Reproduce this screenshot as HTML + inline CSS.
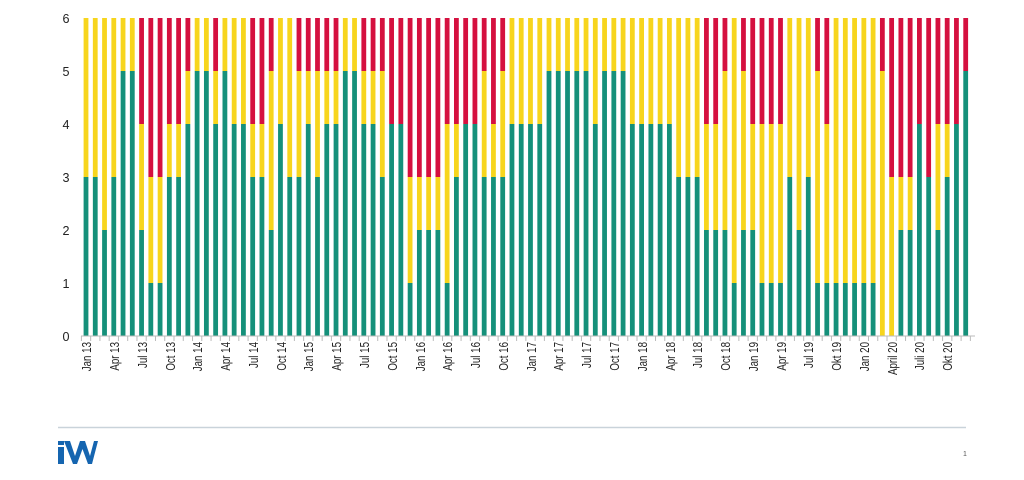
<!DOCTYPE html>
<html><head><meta charset="utf-8"><style>
html,body{margin:0;padding:0;background:#fff;width:1024px;height:480px;overflow:hidden}
svg{display:block;font-family:"Liberation Sans",sans-serif}
</style></head><body>
<svg id="s" width="1024" height="480" viewBox="0 0 1024 480">
<g id="bars"></g>
<line x1="81" y1="336" x2="975" y2="336" stroke="#bbb" stroke-width="1"/>
<g id="ticks" stroke="#bbb" stroke-width="1"></g>
<g font-size="13" fill="#222" text-anchor="middle">
<text x="66" y="341" textLength="7" lengthAdjust="spacingAndGlyphs">0</text>
<text x="66" y="288" textLength="7" lengthAdjust="spacingAndGlyphs">1</text>
<text x="66" y="235" textLength="7" lengthAdjust="spacingAndGlyphs">2</text>
<text x="66" y="182" textLength="7" lengthAdjust="spacingAndGlyphs">3</text>
<text x="66" y="129" textLength="7" lengthAdjust="spacingAndGlyphs">4</text>
<text x="66" y="76" textLength="7" lengthAdjust="spacingAndGlyphs">5</text>
<text x="66" y="23" textLength="7" lengthAdjust="spacingAndGlyphs">6</text>
</g>
<g id="xl" font-size="12.5" fill="#222" text-anchor="end">
<text transform="translate(91,342) rotate(-90) scale(0.78,1)">Jan 13</text>
<text transform="translate(119,342) rotate(-90) scale(0.78,1)">Apr 13</text>
<text transform="translate(147,342) rotate(-90) scale(0.78,1)">Jul 13</text>
<text transform="translate(175,342) rotate(-90) scale(0.78,1)">Oct 13</text>
<text transform="translate(202,342) rotate(-90) scale(0.78,1)">Jan 14</text>
<text transform="translate(230,342) rotate(-90) scale(0.78,1)">Apr 14</text>
<text transform="translate(258,342) rotate(-90) scale(0.78,1)">Jul 14</text>
<text transform="translate(286,342) rotate(-90) scale(0.78,1)">Oct 14</text>
<text transform="translate(313,342) rotate(-90) scale(0.78,1)">Jan 15</text>
<text transform="translate(341,342) rotate(-90) scale(0.78,1)">Apr 15</text>
<text transform="translate(369,342) rotate(-90) scale(0.78,1)">Jul 15</text>
<text transform="translate(397,342) rotate(-90) scale(0.78,1)">Oct 15</text>
<text transform="translate(425,342) rotate(-90) scale(0.78,1)">Jan 16</text>
<text transform="translate(452,342) rotate(-90) scale(0.78,1)">Apr 16</text>
<text transform="translate(480,342) rotate(-90) scale(0.78,1)">Jul 16</text>
<text transform="translate(508,342) rotate(-90) scale(0.78,1)">Oct 16</text>
<text transform="translate(536,342) rotate(-90) scale(0.78,1)">Jan 17</text>
<text transform="translate(563,342) rotate(-90) scale(0.78,1)">Apr 17</text>
<text transform="translate(591,342) rotate(-90) scale(0.78,1)">Jul 17</text>
<text transform="translate(619,342) rotate(-90) scale(0.78,1)">Oct 17</text>
<text transform="translate(647,342) rotate(-90) scale(0.78,1)">Jan 18</text>
<text transform="translate(675,342) rotate(-90) scale(0.78,1)">Apr 18</text>
<text transform="translate(702,342) rotate(-90) scale(0.78,1)">Jul 18</text>
<text transform="translate(730,342) rotate(-90) scale(0.78,1)">Oct 18</text>
<text transform="translate(758,342) rotate(-90) scale(0.78,1)">Jan 19</text>
<text transform="translate(786,342) rotate(-90) scale(0.78,1)">Apr 19</text>
<text transform="translate(813,342) rotate(-90) scale(0.78,1)">Jul 19</text>
<text transform="translate(841,342) rotate(-90) scale(0.78,1)">Okt 19</text>
<text transform="translate(869,342) rotate(-90) scale(0.78,1)">Jan 20</text>
<text transform="translate(897,342) rotate(-90) scale(0.78,1)">April 20</text>
<text transform="translate(924,342) rotate(-90) scale(0.78,1)">Juli 20</text>
<text transform="translate(952,342) rotate(-90) scale(0.78,1)">Okt 20</text>
</g>
<line x1="58" y1="427.5" x2="966" y2="427.5" stroke="#c9d3da" stroke-width="1.5"/>
<g fill="#1565b0">
<rect x="58" y="441" width="6" height="4"/>
<rect x="58" y="447" width="6" height="17"/>
<polygon points="64,441 70,441 75,456 80,441 85,441 90,456 94,441 98,441 92,464 88,464 82.5,449 77,464 73,464"/>
</g>
<text x="963" y="456" font-size="7" fill="#555">1</text>
</svg>
<script>
var d=[[3,3],[3,3],[2,4],[3,3],[5,1],[5,1],[2,2],[1,2],[1,2],[3,1],[3,1],[4,1],[5,1],[5,1],[4,1],[5,1],[4,2],[4,2],[3,1],[3,1],[2,3],[4,2],[3,3],[3,2],[4,1],[3,2],[4,1],[4,1],[5,1],[5,1],[4,1],[4,1],
[3,2],[4,0],[4,0],[1,2],[2,1],[2,1],[2,1],[1,3],[3,1],[4,0],[4,0],[3,2],[3,1],[3,2],[4,2],[4,2],[4,2],[4,2],[5,1],[5,1],[5,1],[5,1],[5,1],[4,2],[5,1],[5,1],[5,1],[4,2],[4,2],[4,2],[4,2],[4,2],[3,3],
[3,3],[3,3],[2,2],[2,2],[2,3],[1,5],[2,3],[2,2],[1,3],[1,3],[1,3],[3,3],[2,4],[3,3],[1,4],[1,3],[1,5],[1,5],[1,5],[1,5],[1,5],[0,5],[0,3],[2,1],[2,1],[4,0],[3,0],[2,2],[3,1],[4,0],[5,0]];
var ns="http://www.w3.org/2000/svg",b=document.getElementById("bars"),t=document.getElementById("ticks");
var U=53,B=336;
function r(x,y,h,c){if(h<=0)return;var e=document.createElementNS(ns,"rect");e.setAttribute("x",x);e.setAttribute("y",y);e.setAttribute("width",4.8);e.setAttribute("height",h);e.setAttribute("fill",c);b.appendChild(e);}
d.forEach(function(v,i){var cx=86+i*9.26,x=cx-2.4,g=v[0],y=v[1],rr=6-g-y;
r(x,B-g*U,g*U,"#15907a");r(x,B-(g+y)*U,y*U,"#f7d51d");r(x,B-6*U,rr*U,"#d5103f");});
for(var i=0;i<=96;i++){var l=document.createElementNS(ns,"line"),x=81.4+i*9.26;l.setAttribute("x1",x);l.setAttribute("x2",x);l.setAttribute("y1",336);l.setAttribute("y2",341);t.appendChild(l);}
</script>
</body></html>
